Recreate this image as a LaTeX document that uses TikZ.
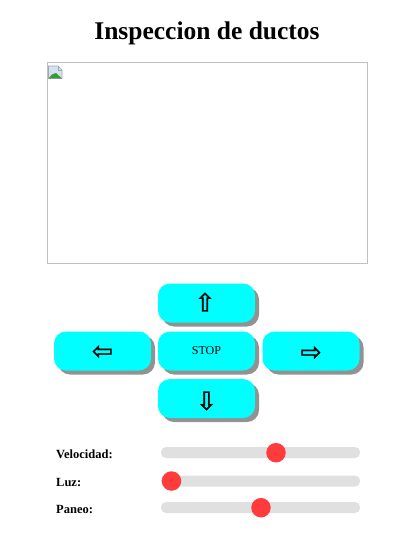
\documentclass[tikz,border=0pt]{standalone}
\usepackage{fontspec}
\setmainfont{Liberation Serif}
\newfontfamily\symfont[FakeBold=1.2]{DejaVu Sans}
\usetikzlibrary{shadows}
\definecolor{btncyan}{HTML}{00FFFF}
\definecolor{shadowgray}{HTML}{929292}
\definecolor{trackgray}{HTML}{E0E0E0}
\definecolor{knobred}{HTML}{FF3B3B}
\definecolor{framegray}{HTML}{C0C0C0}
\definecolor{iconblue}{HTML}{CFE3F3}
\definecolor{icongreen}{HTML}{3A9A3A}
\begin{document}
\begin{tikzpicture}[x=1pt,y=-1pt,
  btn/.style={rectangle, rounded corners=12pt, fill=btncyan, minimum width=97pt, minimum height=39pt, inner sep=0pt,
    drop shadow={shadow xshift=4pt, shadow yshift=-4pt, fill=shadowgray, opacity=1}},
  arrowglyph/.style={inner sep=0pt, font=\symfont\fontsize{25}{25}\selectfont},
  label/.style={anchor=base west, inner sep=0pt, font=\bfseries\fontsize{12.5}{14}\selectfont},
  track/.style={rectangle, rounded corners=5pt, fill=trackgray, minimum width=199pt, minimum height=11pt, inner sep=0pt},
  knob/.style={circle, fill=knobred, minimum size=19.5pt, inner sep=0pt}
]
\useasboundingbox (0,0) rectangle (415,534);
\fill[white] (0,0) rectangle (415,534);

% title
\node[anchor=base, inner sep=0pt, font=\bfseries\fontsize{25.5}{28}\selectfont] (title) at (207,40) {Inspeccion de ductos};

% image frame
\draw[framegray, line width=1pt] (47,63) rectangle (367,263);
\node[coordinate] (img) at (207,163) {};
% broken image icon
\fill[iconblue, draw=gray!70, line width=0.6pt] (48.5,66) -- (58,66) -- (62,70) -- (62,78.5) -- (48.5,78.5) -- cycle;
\draw[gray!70, line width=0.5pt] (58,66) -- (58,70) -- (62,70);
\fill[icongreen] (48.5,78.5) -- (52,74.5) -- (56,73) -- (62,78.5) -- cycle;

% buttons
\node[btn] (up) at (206.5,303) {};
\node[btn] (left) at (102.5,351) {};
\node[btn] (stop) at (206.5,351) {\fontsize{12}{14}\selectfont STOP};
\node[btn] (right) at (311,351) {};
\node[btn] (down) at (206.5,398.5) {};
\node[arrowglyph] (upa) at (205,302) {⇧};
\node[arrowglyph] (lefta) at (102.5,352.5) {⇦};
\node[arrowglyph] (righta) at (311,353.5) {⇨};
\node[arrowglyph] (downa) at (206.5,401) {⇩};

% sliders
\node[label] (lvel) at (56,458) {Velocidad:};
\node[label] (lluz) at (56,486) {Luz:};
\node[label] (lpan) at (56,513) {Paneo:};
\node[track] (tvel) at (260.5,452.5) {};
\node[track] (tluz) at (260.5,481) {};
\node[track] (tpan) at (260.5,507.5) {};
\node[knob] (kvel) at (276,452.7) {};
\node[knob] (kluz) at (171.5,481) {};
\node[knob] (kpan) at (261,507.7) {};
\end{tikzpicture}
\end{document}
